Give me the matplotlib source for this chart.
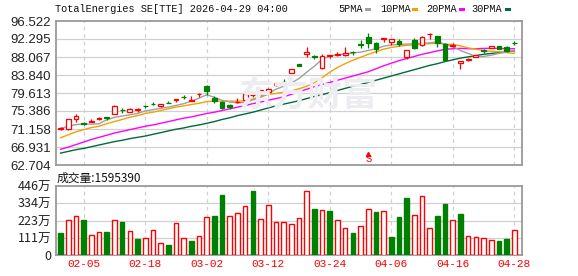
import matplotlib
matplotlib.use("Agg")
import matplotlib.pyplot as plt
from matplotlib.patches import Rectangle
import numpy as np

title = "TotalEnergies SE[TTE] 2026-04-29 04:00"

# daily candles, oldest first
opens = [71.1, 71.1, 73.4, 72.6, 72.85, 73.4, 73.95, 74.75, 75.65, 75.2,
         75.65, 76.65, 77.05, 76.5, 77.35, 77.9, 78.75, 77.85, 79.35, 81.3,
         78.4, 77.6, 76.9, 77.45, 78.0, 79.05, 79.3, 79.9, 81.5, 82.25,
         84.4, 86.4, 88.85, 88.2, 85.6, 88.4, 88.65, 88.6, 89.35, 91.15,
         92.8, 91.3, 92.35, 91.6, 91.75, 88.0, 92.1, 90.9, 93.45, 93.0,
         91.1, 90.6, 86.6, 87.3, 88.1, 89.65, 90.2, 90.65, 90.35, 91.45]
highs = [71.6, 73.6, 74.6, 72.8, 73.5, 73.9, 74.0, 76.7, 76.1, 76.0,
         76.1, 76.9, 77.5, 77.1, 77.7, 78.3, 79.1, 78.8, 79.5, 81.4,
         78.9, 77.7, 77.1, 78.4, 79.5, 79.6, 80.4, 80.8, 82.0, 82.8,
         85.3, 86.5, 90.5, 88.6, 88.8, 88.6, 89.2, 90.5, 89.5, 92.1,
         93.6, 91.7, 92.5, 92.3, 92.3, 89.8, 92.5, 92.9, 93.6, 93.1,
         91.4, 91.3, 87.2, 87.8, 88.6, 90.0, 90.7, 90.7, 90.6, 91.9]
lows = [71.0, 71.0, 72.9, 72.2, 72.8, 73.3, 73.3, 74.6, 75.0, 75.1,
        75.2, 76.2, 76.9, 76.4, 77.2, 77.6, 78.3, 77.8, 78.6, 79.1,
        77.3, 75.9, 75.8, 77.3, 77.9, 78.6, 79.2, 79.8, 81.3, 81.7,
        84.3, 85.9, 88.1, 87.5, 85.3, 87.9, 88.2, 88.4, 88.6, 90.1,
        90.1, 89.0, 91.5, 90.9, 90.7, 87.7, 89.9, 90.7, 92.4, 90.5,
        87.2, 90.5, 85.3, 87.2, 88.0, 89.1, 90.1, 89.9, 89.3, 90.9]
closes = [71.5, 73.5, 74.2, 72.4, 72.95, 73.8, 73.85, 76.6, 75.55, 75.9,
          75.75, 76.55, 76.95, 77.0, 77.25, 78.2, 78.65, 77.95, 79.45, 80.15,
          77.8, 76.0, 76.3, 77.55, 79.4, 79.15, 80.3, 80.6, 81.9, 82.15,
          85.2, 86.0, 89.3, 88.0, 88.4, 88.55, 88.75, 89.1, 89.25, 90.95,
          91.4, 89.95, 92.45, 92.2, 91.1, 89.6, 90.1, 92.7, 93.55, 91.4,
          87.3, 91.0, 87.1, 87.7, 88.5, 89.5, 90.65, 90.0, 89.55, 91.35]

# moving averages as drawn on the chart
ma5 = [71.3, 71.8, 72.2, 72.3, 72.3, 72.4, 73.3, 73.9, 74.2, 74.5,
       74.8, 75.4, 75.7, 76.0, 76.3, 76.7, 77.1, 77.7, 78.4, 79.2,
       78.6, 77.9, 77.5, 77.3, 77.4, 78.0, 78.6, 79.5, 80.5, 81.2,
       82.0, 83.0, 84.5, 85.9, 87.5, 88.3, 88.6, 88.8, 89.0, 89.2,
       89.6, 90.0, 90.6, 90.9, 91.0, 91.1, 91.2, 91.3, 91.4, 91.6,
       91.1, 90.5, 89.6, 88.9, 88.2, 88.2, 88.5, 88.9, 89.2, 89.6]
ma10 = [69.1, 69.8, 70.5, 71.0, 71.5, 71.8, 72.4, 72.9, 73.4, 73.9,
        74.3, 74.8, 75.1, 75.5, 75.9, 76.3, 76.6, 76.9, 77.2, 77.6,
        77.7, 77.7, 77.7, 77.7, 77.8, 78.2, 78.7, 79.3, 79.5, 79.8,
        80.1, 80.6, 81.2, 82.0, 83.2, 84.5, 85.6, 86.5, 87.3, 88.0,
        88.7, 89.3, 89.9, 90.3, 90.6, 90.8, 90.9, 91.1, 91.2, 91.3,
        91.1, 91.0, 90.7, 90.2, 89.9, 89.6, 89.4, 89.3, 89.1, 88.9]
ma20 = [66.4, 66.9, 67.5, 68.1, 68.7, 69.2, 69.7, 70.2, 70.6, 71.0,
        71.4, 71.8, 72.1, 72.5, 72.9, 73.3, 73.7, 74.0, 74.4, 74.8,
        75.1, 75.5, 75.9, 76.3, 76.7, 77.1, 77.5, 77.9, 78.3, 78.7,
        79.3, 79.9, 80.5, 81.1, 81.6, 82.1, 82.6, 83.1, 83.6, 84.1,
        84.6, 85.3, 86.0, 86.6, 87.2, 87.7, 88.2, 88.7, 89.1, 89.5,
        89.9, 90.0, 90.1, 90.0, 90.0, 90.1, 90.1, 90.1, 90.0, 90.0]
ma30 = [65.5, 65.9, 66.3, 66.6, 67.0, 67.4, 67.8, 68.2, 68.5, 68.9,
        69.2, 69.5, 69.9, 70.3, 70.7, 71.1, 71.4, 71.8, 72.1, 72.5,
        72.9, 73.4, 73.8, 74.3, 74.7, 75.1, 75.6, 76.1, 76.6, 77.0,
        77.4, 77.8, 78.3, 78.8, 79.2, 79.7, 80.2, 80.7, 81.2, 81.6,
        82.1, 82.6, 83.1, 83.6, 84.1, 84.6, 85.1, 85.6, 86.1, 86.5,
        87.0, 87.4, 87.8, 88.1, 88.4, 88.7, 88.9, 89.1, 89.3, 89.5]

# volume in 万 shares, and whether the bar is drawn as an "up" bar
volume = [142, 226, 250, 226, 127, 147, 149, 226, 213, 155,
          103, 108, 162, 75, 65, 205, 108, 91, 121, 244,
          252, 388, 250, 269, 315, 414, 231, 321, 213, 213,
          198, 237, 412, 297, 291, 284, 226, 172, 142, 185,
          295, 278, 284, 116, 246, 368, 256, 379, 172, 252,
          330, 226, 265, 121, 114, 108, 97, 91, 103, 159.5]
vol_up = [0, 1, 1, 0, 1, 1, 0, 1, 0, 1,
          0, 1, 1, 1, 0, 1, 1, 0, 1, 1,
          0, 0, 1, 1, 1, 0, 1, 1, 1, 1,
          1, 1, 1, 0, 1, 0, 1, 1, 0, 1,
          1, 0, 1, 0, 0, 0, 1, 1, 1, 0,
          0, 1, 0, 1, 1, 1, 1, 0, 0, 1]
last_volume = 1595390

date_pos = [3, 11, 19, 27, 35, 43, 51, 59]
date_labels = ["02-05", "02-18", "03-02", "03-12", "03-24", "04-06", "04-16", "04-28"]
price_ticks = [62.704, 66.931, 71.158, 75.386, 79.613, 83.840, 88.067, 92.295, 96.522]
vol_ticks = [0, 111, 223, 334, 446]
vol_tick_labels = ["0", "111万", "223万", "334万", "446万"]
ma_names = ["5PMA", "10PMA", "20PMA", "30PMA"]
signal_pos = 40

W, H = 578, 276
RED = "#ff0000"
GREEN = "#008000"
MA_COLORS = ["#a0a0a0", "#f5a000", "#ff00ff", "#006a3c"]
FRAME = "#9a9a9a"
GRID = "#d0d0d0"
MONO = "Liberation Mono"
CJK = ["Noto Sans CJK SC", "DejaVu Sans"]


def fx(px):
    return px / W


def fy(py):
    return 1 - py / H


fig = plt.figure(figsize=(W / 100, H / 100), dpi=100)
ax = fig.add_axes([fx(56), fy(165), fx(466), (165 - 21) / H])
axv = fig.add_axes([fx(56), fy(255), fx(466), (255 - 186) / H])

x = np.arange(len(closes))
o = np.array(opens)
c = np.array(closes)

for a in (ax, axv):
    a.set_xlim(-0.6, 60.0)
    for s in a.spines.values():
        s.set_color(FRAME)
        s.set_linewidth(1.3)
    for p in date_pos:
        a.axvline(p, color=GRID, lw=0.9, ls=(0, (3, 3)), zorder=0)
    a.tick_params(length=0, labelsize=9, colors="#222222")

# price panel
ax.set_ylim(price_ticks[0], price_ticks[-1])
ax.set_yticks(price_ticks)
ax.set_yticklabels([f"{v:.3f}" for v in price_ticks], family="Liberation Sans", fontsize=9.5)
ax.set_xticks([])
for v in price_ticks[1:-1]:
    ax.axhline(v, color=GRID, lw=0.9, zorder=0)

# faint watermark
fig.text(fx(308), fy(95), "东方财富", family=CJK, fontsize=25, fontweight="bold",
         color="#ededf1", ha="center", va="center", zorder=0)

for ma, col in zip([ma30, ma20, ma10, ma5], MA_COLORS[::-1]):
    ax.plot(x, ma, color=col, lw=1.0, zorder=2)

up = c >= o
ax.vlines(x, lows, highs, colors=np.where(up, RED, GREEN), lw=0.9, zorder=3)
body_h = np.maximum(np.abs(c - o), 0.06)
ax.bar(x[up], body_h[up], bottom=np.minimum(o, c)[up], width=0.62,
       facecolor="white", edgecolor=RED, lw=0.9, zorder=4)
ax.bar(x[~up], body_h[~up], bottom=np.minimum(o, c)[~up], width=0.62,
       facecolor=GREEN, edgecolor=GREEN, lw=0.9, zorder=4)

ax.plot(signal_pos, 65.4, marker="^", ms=3, color=RED, zorder=5)
ax.text(signal_pos, 62.95, "S", color=RED, family=MONO, fontsize=7.5,
        ha="center", va="bottom", zorder=5)

# volume panel
vu = np.array(vol_up, dtype=bool)
axv.set_ylim(0, 446)
axv.set_yticks(vol_ticks)
axv.set_yticklabels(vol_tick_labels, family=CJK, fontsize=9)
for v in vol_ticks[1:-1]:
    axv.axhline(v, color=GRID, lw=0.9, zorder=0)
vol = np.array(volume)
axv.bar(x[vu], vol[vu], width=0.6, facecolor="white", edgecolor=RED, lw=1.0, zorder=3)
axv.bar(x[~vu], vol[~vu], width=0.6, facecolor=GREEN, edgecolor=GREEN, lw=1.0, zorder=3)
axv.set_xticks(date_pos)
axv.set_xticklabels(date_labels, family=MONO, fontsize=8, color=RED)
axv.tick_params(axis="x", pad=3)

# header texts
fig.text(fx(55), fy(9.5), title, family=MONO, fontsize=7.4, color="#111111", va="center")
fig.text(fx(57), fy(178), f"成交量:{last_volume}", family=CJK, fontsize=8.5,
         color="#111111", va="center")

leg_x = [338, 380, 426, 471]
dash_x = [365, 412, 459, 505]
for name, lx, dx, col in zip(ma_names, leg_x, dash_x, MA_COLORS):
    fig.text(fx(lx), fy(9.5), name, family=MONO, fontsize=7.4, color="#111111", va="center")
    fig.patches.append(Rectangle((fx(dx), fy(11)), fx(6), 3 / H, transform=fig.transFigure,
                                 facecolor=col, edgecolor="none"))

fig.savefig("out.png", dpi=100)
